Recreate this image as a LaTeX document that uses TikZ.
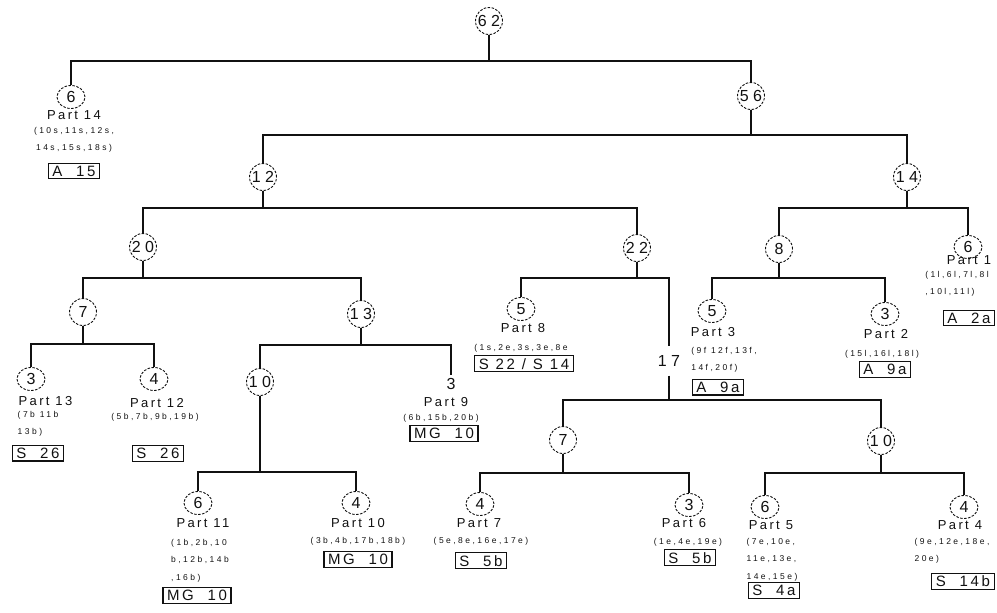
\documentclass[tikz,border=0pt]{standalone}
\usepackage{fontspec}
\setmainfont{Liberation Sans}
\newfontfamily\numfamily{Liberation Sans}
\newfontfamily\partfamily[LetterSpace=18]{Liberation Sans}
\newfontfamily\listfamily[LetterSpace=29]{Liberation Sans}
\newfontfamily\tagfamily[LetterSpace=18]{Liberation Sans}
\newcommand\fNum{\numfamily\fontsize{16pt}{19pt}\selectfont}
\newcommand\fPart{\partfamily\fontsize{13pt}{15pt}\selectfont}
\newcommand\fList{\listfamily\fontsize{8.5pt}{17.5pt}\selectfont}
\newcommand\fTag{\tagfamily\fontsize{15pt}{18pt}\selectfont}
\usepackage{xcolor}
\definecolor{cInk}{HTML}{111111}
\usepackage{tikz}
\usetikzlibrary{positioning,shapes.geometric}
\tikzset{
  node-sum/.style={draw=cInk,line width=0.9pt,dash pattern=on 2.5pt off 1.5pt,
    circle,minimum size=27pt,inner sep=0pt,font=\fNum,text=cInk},
  node-leaf/.style={draw=cInk,line width=0.9pt,dash pattern=on 2.5pt off 1.5pt,
    ellipse,minimum width=28pt,minimum height=23pt,inner sep=0pt,font=\fNum,text=cInk},
  node-bare/.style={inner sep=3pt,font=\fNum,text=cInk},
  node-part/.style={inner sep=0pt,font=\fPart,text=cInk},
  node-list/.style={inner sep=0pt,align=center,font=\fList,text=cInk},
  node-list-l/.style={node-list,align=left},
  node-tag/.style={draw=cInk,line width=1.1pt,inner xsep=4pt,inner ysep=2.5pt,
    font=\fTag,text=cInk},
  link/.style={line width=1.3pt,draw=cInk},
}

\begin{document}
\begin{tikzpicture}[x=1pt,y=-1pt]
  \useasboundingbox (0,0) rectangle (997,613);
  % subtotals
  \node[node-sum] (n62) at (489,21) {6 2};
  \node[node-sum] (n56) at (751,96) {5 6};
  \node[node-sum] (n12) at (263,177) {1 2};
  \node[node-sum] (n14) at (907,177) {1 4};
  \node[node-sum] (n20) at (143,247) {2 0};
  \node[node-sum] (n22) at (637,248) {2 2};
  \node[node-sum] (n8) at (779,249) {8};
  \node[node-sum] (n7a) at (83,312) {7};
  \node[node-sum] (n13) at (361,314) {1 3};
  \node[node-sum] (n10a) at (260,382) {1 0};
  \node[node-bare,inner ysep=9pt] (n17) at (669,361) {1 7};
  \node[node-sum] (n7b) at (563,440) {7};
  \node[node-sum] (n10b) at (881,441) {1 0};
  % parts
  \node[node-leaf] (p14) at (71,97) {6};
  \node[node-leaf] (p1) at (968,247) {6};
  \node[node-leaf] (p8) at (521,309) {5};
  \node[node-leaf] (p3) at (712,311) {5};
  \node[node-leaf] (p2) at (885,314) {3};
  \node[node-leaf] (p13) at (31,379) {3};
  \node[node-leaf] (p12) at (154,379) {4};
  \node[node-bare] (p9) at (451,384) {3};
  \node[node-leaf] (p11) at (198,503) {6};
  \node[node-leaf] (p10) at (356,503) {4};
  \node[node-leaf] (p7) at (480,504) {4};
  \node[node-leaf] (p6) at (689,505) {3};
  \node[node-leaf] (p5) at (765,507) {6};
  \node[node-leaf] (p4) at (964,507) {4};

  % part labels, lists, tags
  \node[node-part,below=1.5pt of p14,xshift=3pt] (t14) {Part 14};
  \node[node-list,below=7pt of t14] (l14) {(10s,11s,12s,\\14s,15s,18s)};
  \node[node-tag,below=10pt of l14] (g14) {A~~15};

  \node[node-part,below=-3.5pt of p1,xshift=1pt] (t1) {Part 1};
  \node[node-list-l,below=6pt of t1,xshift=-12pt] (l1) {(1l,6l,7l,8l\\,10l,11l)};
  \node[node-tag,below=13pt of l1,xshift=12pt] (g1) {A~~2a};

  \node[node-part,below=2.5pt of p8,xshift=2pt] (t8) {Part 8};
  \node[node-list,below=11pt of t8,xshift=-2pt] (l8) {(1s,2e,3s,3e,8e};
  \node[node-tag,below=3pt of l8,xshift=3pt] (g8) {S~22~/~S~14};

  \node[node-part,below=4.5pt of p3,xshift=1pt] (t3) {Part 3};
  \node[node-list-l,below=10pt of t3,xshift=11pt] (l3) {(9f 12f,13f,\\14f,20f)};
  \node[node-tag,below=6pt of l3,xshift=-6pt] (g3) {A~~9a};

  \node[node-part,below=3.5pt of p2,xshift=1pt] (t2) {Part 2};
  \node[node-list,below=11pt of t2,xshift=-4pt] (l2) {(15l,16l,18l)};
  \node[node-tag,below=3pt of l2,xshift=3pt] (g2) {A~~9a};

  \node[node-part,below=5.5pt of p13,xshift=14.5pt] (t13) {Part 13};
  \node[node-list-l,below=5pt of t13,xshift=-7.5pt] (l13) {(7b 11b\\13b)};
  \node[node-tag,below=8pt of l13] (g13) {S~~26};

  \node[node-part,below=7.5pt of p12,xshift=3pt] (t12) {Part 12};
  \node[node-list,below=5pt of t12,xshift=-2pt] (l12) {(5b,7b,9b,19b)};
  \node[node-tag,below=24pt of l12,xshift=3pt] (g12) {S~~26};

  \node[node-part,below=4.5pt of p9,xshift=-5pt] (t9) {Part 9};
  \node[node-list,below=7pt of t9,xshift=-5pt] (l9) {(6b,15b,20b)};
  \node[node-tag,below=3pt of l9,xshift=3pt] (g9) {MG~~10};

  \node[node-part,below=3.5pt of p11,xshift=5pt] (t11) {Part 11};
  \node[node-list-l,below=11pt of t11,xshift=-3pt] (l11) {(1b,2b,10\\b,12b,14b\\,16b)};
  \node[node-tag,below=5pt of l11,xshift=-3pt] (g11) {MG~~10};

  \node[node-part,below=3.5pt of p10,xshift=2pt] (t10) {Part 10};
  \node[node-list,below=9pt of t10] (l10) {(3b,4b,17b,18b)};
  \node[node-tag,below=6pt of l10] (g10) {MG~~10};

  \node[node-part,below=2.5pt of p7,xshift=-1pt] (t7) {Part 7};
  \node[node-list,below=9pt of t7,xshift=2pt] (l7) {(5e,8e,16e,17e)};
  \node[node-tag,below=7pt of l7] (g7) {S~~5b};

  \node[node-part,below=1.5pt of p6,xshift=-5pt] (t6) {Part 6};
  \node[node-list,below=10pt of t6,xshift=4pt] (l6) {(1e,4e,19e)};
  \node[node-tag,below=3pt of l6,xshift=2pt] (g6) {S~~5b};

  \node[node-part,below=1.5pt of p5,xshift=6pt] (t5) {Part 5};
  \node[node-list-l,below=8pt of t5,xshift=1pt] (l5) {(7e,10e,\\11e,13e,\\14e,15e)};
  \node[node-tag,below=1pt of l5,xshift=2pt] (g5) {S~~4a};

  \node[node-part,below=1.5pt of p4,xshift=-4pt] (t4) {Part 4};
  \node[node-list-l,below=8pt of t4,xshift=-8pt] (l4) {(9e,12e,18e,\\20e)};
  \node[node-tag,below=9pt of l4,xshift=11pt] (g4) {S~~14b};

  % branches
  \coordinate (b62) at (489,61);
  \coordinate (b56) at (751,135);
  \coordinate (b12) at (263,208);
  \coordinate (b14) at (907,208);
  \coordinate (b20) at (143,278);
  \coordinate (b22) at (637,278);
  \coordinate (b8) at (779,278);
  \coordinate (b7a) at (83,344);
  \coordinate (b13) at (361,345);
  \coordinate (b10a) at (260,472);
  \coordinate (b17) at (669,400);
  \coordinate (b7b) at (563,473);
  \coordinate (b10b) at (881,473);

  \draw[link] (n62) -- (b62) -| (p14);
  \draw[link] (b62) -| (n56);
  \draw[link] (n56) -- (b56) -| (n12);
  \draw[link] (b56) -| (n14);
  \draw[link] (n12) -- (b12) -| (n20);
  \draw[link] (b12) -| (n22);
  \draw[link] (n14) -- (b14) -| (n8);
  \draw[link] (b14) -| (p1);
  \draw[link] (n20) -- (b20) -| (n7a);
  \draw[link] (b20) -| (n13);
  \draw[link] (n22) -- (b22) -| (p8);
  \draw[link] (b22) -| (n17);
  \draw[link] (n8) -- (b8) -| (p3);
  \draw[link] (b8) -| (p2);
  \draw[link] (n7a) -- (b7a) -| (p13);
  \draw[link] (b7a) -| (p12);
  \draw[link] (n13) -- (b13) -| (n10a);
  \draw[link] (b13) -| (p9);
  \draw[link] (n10a) -- (b10a) -| (p11);
  \draw[link] (b10a) -| (p10);
  \draw[link] (n17) -- (b17) -| (n7b);
  \draw[link] (b17) -| (n10b);
  \draw[link] (n7b) -- (b7b) -| (p7);
  \draw[link] (b7b) -| (p6);
  \draw[link] (n10b) -- (b10b) -| (p5);
  \draw[link] (b10b) -| (p4);
\end{tikzpicture}
\end{document}
